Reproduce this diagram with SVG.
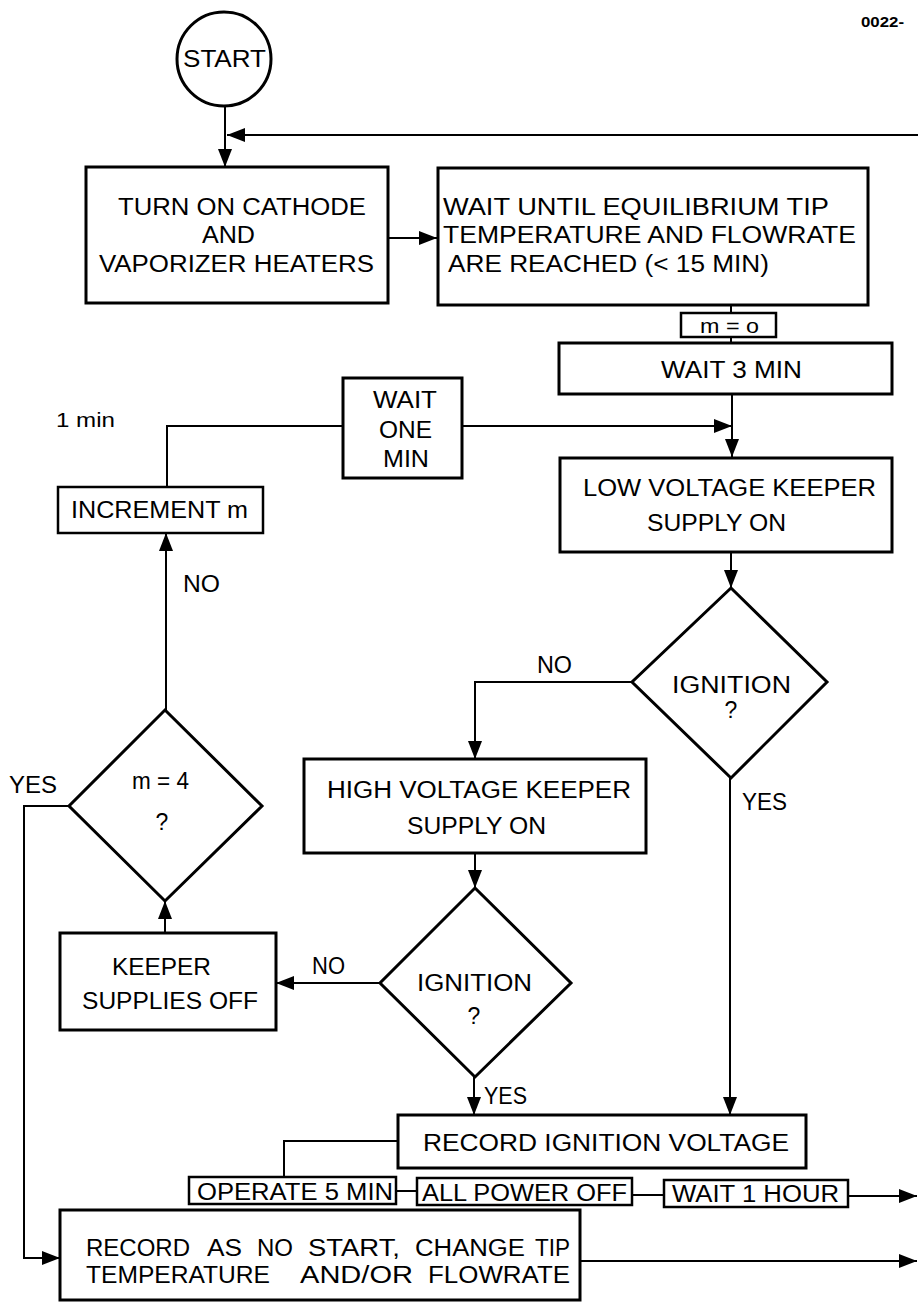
<svg xmlns="http://www.w3.org/2000/svg" width="918" height="1303" viewBox="0 0 918 1303">
<style>
.box{fill:#fff;stroke:#000;stroke-width:3}
.sbox{fill:#fff;stroke:#000;stroke-width:2.5}
.dia{fill:#fff;stroke:#000;stroke-width:3;stroke-linejoin:miter}
.ln{fill:none;stroke:#000;stroke-width:2}
.t{font-family:"Liberation Sans",Arial,sans-serif;font-size:23px;fill:#000}
.s{font-family:"Liberation Sans",Arial,sans-serif;font-size:21px;fill:#000}
.c{text-anchor:middle}
</style>
<defs>
<marker id="ah" viewBox="0 0 18 14" refX="18" refY="7" markerWidth="18" markerHeight="14" orient="auto" markerUnits="userSpaceOnUse">
<path d="M0,0 L18,7 L0,14 z" fill="#000"/>
</marker>
</defs>
<rect width="918" height="1303" fill="#fff"/>
<text x="861" y="27" style="font-family:'Liberation Sans',Arial,sans-serif;font-size:14px;font-weight:bold" textLength="43" lengthAdjust="spacingAndGlyphs">0022-</text>

<g id="connectors">
<path class="ln" d="M225,107 L225,167" marker-end="url(#ah)"/>
<path class="ln" d="M918,135 L227,135" marker-end="url(#ah)"/>
<path class="ln" d="M388,238 L437,238" marker-end="url(#ah)"/>
<path class="ln" d="M731,305 L731,313"/>
<path class="ln" d="M731,337 L731,343"/>
<path class="ln" d="M732,394 L732,457" marker-end="url(#ah)"/>
<path class="ln" d="M462,426 L732,426" marker-end="url(#ah)"/>
<path class="ln" d="M167,487 L167,426 L343,426"/>
<path class="ln" d="M731,552 L731,588" marker-end="url(#ah)"/>
<path class="ln" d="M632,682 L475,682 L475,759" marker-end="url(#ah)"/>
<path class="ln" d="M730,778 L730,1115" marker-end="url(#ah)"/>
<path class="ln" d="M475,853 L475,888" marker-end="url(#ah)"/>
<path class="ln" d="M380,983 L276,983" marker-end="url(#ah)"/>
<path class="ln" d="M474,1077 L474,1115" marker-end="url(#ah)"/>
<path class="ln" d="M165,933 L165,901" marker-end="url(#ah)"/>
<path class="ln" d="M166,710 L166,533" marker-end="url(#ah)"/>
<path class="ln" d="M69,806 L24,806 L24,1258 L60,1258" marker-end="url(#ah)"/>
<path class="ln" d="M398,1141 L284,1141 L284,1177"/>
<path class="ln" d="M396,1191 L417,1191"/>
<path class="ln" d="M632,1195 L664,1195"/>
<path class="ln" d="M848,1196 L917,1196" marker-end="url(#ah)"/>
<path class="ln" d="M580,1261 L917,1261" marker-end="url(#ah)"/>
</g>

<g id="start">
<circle cx="224" cy="59" r="47" fill="#fff" stroke="#000" stroke-width="3"/>
<text class="t" x="183" y="67" textLength="83" lengthAdjust="spacingAndGlyphs">START</text>
</g>

<g id="turn-on">
<rect class="box" x="86" y="167" width="302" height="136"/>
<text class="t" x="118" y="215" textLength="248" lengthAdjust="spacingAndGlyphs">TURN ON CATHODE</text>
<text class="t" x="202" y="243" textLength="53" lengthAdjust="spacingAndGlyphs">AND</text>
<text class="t" x="99" y="272" textLength="275" lengthAdjust="spacingAndGlyphs">VAPORIZER HEATERS</text>
</g>

<g id="wait-equilibrium">
<rect class="box" x="438" y="168" width="430" height="137"/>
<text class="t" x="443" y="215" textLength="386" lengthAdjust="spacingAndGlyphs">WAIT UNTIL EQUILIBRIUM TIP</text>
<text class="t" x="443" y="243" textLength="413" lengthAdjust="spacingAndGlyphs">TEMPERATURE AND FLOWRATE</text>
<text class="t" x="448" y="272" textLength="321" lengthAdjust="spacingAndGlyphs">ARE REACHED (&lt; 15 MIN)</text>
</g>

<g id="m-zero">
<rect class="sbox" x="681" y="313" width="95" height="24"/>
<text class="s" x="700" y="333" textLength="59" lengthAdjust="spacingAndGlyphs">m = o</text>
</g>

<g id="wait-3">
<rect class="box" x="559" y="343" width="333" height="51"/>
<text class="t" x="661" y="378" textLength="141" lengthAdjust="spacingAndGlyphs">WAIT 3 MIN</text>
</g>

<g id="wait-one">
<rect class="box" x="343" y="378" width="119" height="100"/>
<text class="t" x="373" y="408" textLength="64" lengthAdjust="spacingAndGlyphs">WAIT</text>
<text class="t" x="379" y="438" textLength="53" lengthAdjust="spacingAndGlyphs">ONE</text>
<text class="t" x="383" y="467" textLength="46" lengthAdjust="spacingAndGlyphs">MIN</text>
</g>

<text class="s" x="56" y="427" textLength="59" lengthAdjust="spacingAndGlyphs">1 min</text>

<g id="increment">
<rect class="sbox" x="58" y="487" width="205" height="46"/>
<text class="t" x="71" y="518" textLength="177" lengthAdjust="spacingAndGlyphs">INCREMENT m</text>
</g>
<text class="t" x="183" y="592" textLength="37" lengthAdjust="spacingAndGlyphs">NO</text>

<g id="low-voltage">
<rect class="box" x="560" y="458" width="332" height="94"/>
<text class="t" x="583" y="496" textLength="293" lengthAdjust="spacingAndGlyphs">LOW VOLTAGE KEEPER</text>
<text class="t" x="647" y="531" textLength="139" lengthAdjust="spacingAndGlyphs">SUPPLY ON</text>
</g>

<g id="ignition-1">
<polygon class="dia" points="731,588 827,682 731,778 632,682"/>
<text class="t" x="672" y="693" textLength="119" lengthAdjust="spacingAndGlyphs">IGNITION</text>
<text class="t c" x="731" y="718">?</text>
</g>
<text class="t" x="537" y="673" textLength="35" lengthAdjust="spacingAndGlyphs">NO</text>
<text class="t" x="742" y="810" textLength="45" lengthAdjust="spacingAndGlyphs">YES</text>

<g id="m-four">
<polygon class="dia" points="165,710 262,806 165,901 69,806"/>
<text class="t" x="132" y="789" textLength="57" lengthAdjust="spacingAndGlyphs">m = 4</text>
<text class="t c" x="162" y="830">?</text>
</g>
<text class="t" x="9" y="793" textLength="48" lengthAdjust="spacingAndGlyphs">YES</text>

<g id="high-voltage">
<rect class="box" x="304" y="759" width="342" height="94"/>
<text class="t" x="327" y="798" textLength="304" lengthAdjust="spacingAndGlyphs">HIGH VOLTAGE KEEPER</text>
<text class="t" x="407" y="834" textLength="139" lengthAdjust="spacingAndGlyphs">SUPPLY ON</text>
</g>

<g id="ignition-2">
<polygon class="dia" points="475,888 571,983 475,1077 380,983"/>
<text class="t" x="417" y="991" textLength="115" lengthAdjust="spacingAndGlyphs">IGNITION</text>
<text class="t c" x="474" y="1024">?</text>
</g>
<text class="t" x="312" y="974" textLength="33" lengthAdjust="spacingAndGlyphs">NO</text>
<text class="t" x="484" y="1104" textLength="43" lengthAdjust="spacingAndGlyphs">YES</text>

<g id="keeper-off">
<rect class="box" x="60" y="933" width="216" height="97"/>
<text class="t" x="112" y="975" textLength="99" lengthAdjust="spacingAndGlyphs">KEEPER</text>
<text class="t" x="82" y="1009" textLength="176" lengthAdjust="spacingAndGlyphs">SUPPLIES OFF</text>
</g>

<g id="record-ignition">
<rect class="box" x="398" y="1115" width="408" height="53"/>
<text class="t" x="423" y="1151" textLength="366" lengthAdjust="spacingAndGlyphs">RECORD IGNITION VOLTAGE</text>
</g>

<g id="operate">
<rect class="sbox" x="189" y="1177" width="207" height="27"/>
<text class="t" x="197" y="1200" textLength="196" lengthAdjust="spacingAndGlyphs">OPERATE 5 MIN</text>
</g>

<g id="power-off">
<rect class="sbox" x="417" y="1178" width="215" height="27"/>
<text class="t" x="422" y="1201" textLength="205" lengthAdjust="spacingAndGlyphs">ALL POWER OFF</text>
</g>

<g id="wait-hour">
<rect class="sbox" x="664" y="1180" width="184" height="27"/>
<text class="t" x="672" y="1202" textLength="167" lengthAdjust="spacingAndGlyphs">WAIT 1 HOUR</text>
</g>

<g id="no-start">
<rect class="box" x="60" y="1210" width="520" height="90"/>
<text class="t" x="86" y="1256" textLength="104" lengthAdjust="spacingAndGlyphs">RECORD</text>
<text class="t" x="207" y="1256" textLength="35" lengthAdjust="spacingAndGlyphs">AS</text>
<text class="t" x="257" y="1256" textLength="36" lengthAdjust="spacingAndGlyphs">NO</text>
<text class="t" x="308" y="1256" textLength="92" lengthAdjust="spacingAndGlyphs">START,</text>
<text class="t" x="415" y="1256" textLength="110" lengthAdjust="spacingAndGlyphs">CHANGE</text>
<text class="t" x="535" y="1256" textLength="35" lengthAdjust="spacingAndGlyphs">TIP</text>
<text class="t" x="86" y="1283" textLength="184" lengthAdjust="spacingAndGlyphs">TEMPERATURE</text>
<text class="t" x="300" y="1283" textLength="113" lengthAdjust="spacingAndGlyphs">AND/OR</text>
<text class="t" x="428" y="1283" textLength="142" lengthAdjust="spacingAndGlyphs">FLOWRATE</text>
</g>
</svg>
